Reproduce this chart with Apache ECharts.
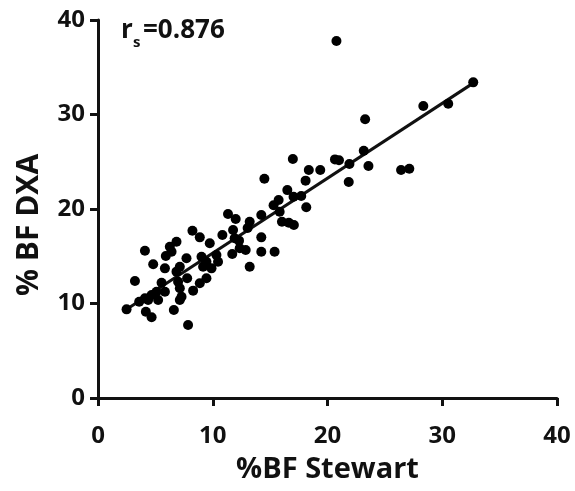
<!DOCTYPE html>
<html>
<head>
<meta charset="utf-8">
<script src="https://cdn.jsdelivr.net/npm/echarts@6/dist/echarts.min.js"></script>
<style>
  html, body { margin: 0; padding: 0; background: #fff; }
  #chart { width: 575px; height: 491px; }
</style>
</head>
<body>
<div id="chart"></div>
<script>
// %BF by Stewart method (x) vs %BF by DXA (y), one entry per subject
const stewartBF = [
  2.49, 3.22, 4.09, 3.59, 4.09, 4.37, 4.17, 4.67, 4.67, 4.81, 5.10, 5.24,
  5.54, 5.83, 5.83, 5.91, 6.26, 6.41, 6.84, 6.84, 6.98, 7.13, 7.13, 7.13,
  7.28, 6.61, 7.71, 7.77, 7.85, 8.29, 8.23,
  8.87, 8.87, 9.02, 9.16, 9.45, 9.45, 9.74, 9.89, 10.32, 10.46, 10.84,
  11.33, 12.00, 11.77, 11.91, 12.29, 12.35, 12.87, 11.70,
  13.04, 13.22, 14.23, 14.23, 14.23, 15.39, 13.22, 14.50, 15.30, 15.74,
  15.83, 16.03, 16.63, 17.07, 16.50, 16.98, 17.04, 17.71, 18.09, 18.15,
  18.37, 19.37,
  20.65, 21.00, 21.91, 21.85, 23.16, 23.57, 23.28, 26.41, 27.13, 28.35,
  30.52, 32.70, 20.78
];
const dxaBF = [
  9.38, 12.38, 15.59, 10.19, 10.55, 10.37, 9.13, 8.54, 10.90, 14.15, 11.25, 10.37,
  12.20, 11.25, 13.72, 15.03, 16.01, 15.48, 16.54, 13.37, 12.31, 13.89, 11.61, 10.37,
  10.72, 9.31, 14.78, 12.67, 7.72, 11.36, 17.70,
  17.00, 12.14, 14.95, 13.89, 14.42, 12.67, 16.37, 13.72, 15.13, 14.42, 17.25,
  19.47, 18.94, 17.78, 16.90, 16.65, 15.84, 15.66, 15.24,
  17.98, 18.66, 19.36, 17.00, 15.48, 15.48, 13.89, 23.20, 20.40, 20.95,
  19.71, 18.66, 18.55, 18.31, 22.00, 25.30, 21.30, 21.38, 23.00, 20.18,
  24.13, 24.13,
  25.25, 25.15, 24.76, 22.86, 26.17, 24.55, 29.49, 24.13, 24.26, 30.90,
  31.14, 33.40, 37.78
];

// Fitted line endpoints
const fitX = [2.4, 32.8];
const fitY = [9.3, 33.4];

// Axis ticks
const xTicks = [0, 10, 20, 30, 40];
const yTicks = [0, 10, 20, 30, 40];

const rsLabel = '=0.876';

const points = stewartBF.map((x, i) => [x, dxaBF[i]]);
const fitLine = fitX.map((x, i) => [x, fitY[i]]);

const FONT = '"Open Sans", "Noto Sans", sans-serif';
const INK = '#111';

const axisCommon = {
  type: 'value',
  min: xTicks[0],
  max: xTicks[xTicks.length - 1],
  interval: xTicks[1] - xTicks[0],
  splitLine: { show: false },
  axisLine: { show: true, lineStyle: { color: INK, width: 3 } },
  axisTick: { show: true, length: 8, lineStyle: { color: INK, width: 3 } },
  nameLocation: 'middle'
};

const chart = echarts.init(document.getElementById('chart'), null, { renderer: 'canvas' });
chart.setOption({
  backgroundColor: '#fff',
  animation: false,
  grid: { left: 98, right: 18, top: 20, bottom: 93, containLabel: false },
  xAxis: Object.assign({}, axisCommon, {
    name: '%BF Stewart',
    nameGap: 57,
    nameTextStyle: { fontFamily: FONT, fontWeight: 'bold', fontSize: 29, color: INK },
    axisLabel: { margin: 26, fontFamily: FONT, fontWeight: 'bold', fontSize: 24, color: INK }
  }),
  yAxis: Object.assign({}, axisCommon, {
    min: yTicks[0],
    max: yTicks[yTicks.length - 1],
    interval: yTicks[1] - yTicks[0],
    name: '% BF DXA',
    nameGap: 54,
    nameTextStyle: {
      fontFamily: FONT, fontWeight: 'bold', fontSize: 30, color: INK,
      padding: [0, 32, 0, 0]
    },
    axisLabel: { margin: 13, fontFamily: FONT, fontWeight: 'bold', fontSize: 24, color: INK }
  }),
  series: [
    {
      type: 'line',
      data: fitLine,
      symbol: 'none',
      lineStyle: { color: INK, width: 3 },
      z: 3
    },
    {
      type: 'scatter',
      data: points,
      symbol: 'circle',
      symbolSize: 10,
      itemStyle: { color: '#000', opacity: 1 },
      z: 4
    }
  ],
  graphic: [
    {
      type: 'text', left: 121, top: 18,
      style: { text: 'r', font: 'bold 26px ' + FONT, fill: INK }
    },
    {
      type: 'text', left: 133, top: 35,
      style: { text: 's', font: 'bold 15px ' + FONT, fill: INK }
    },
    {
      type: 'text', left: 143, top: 18,
      style: { text: rsLabel, font: 'bold 26px ' + FONT, fill: INK }
    }
  ]
});
</script>
</body>
</html>
